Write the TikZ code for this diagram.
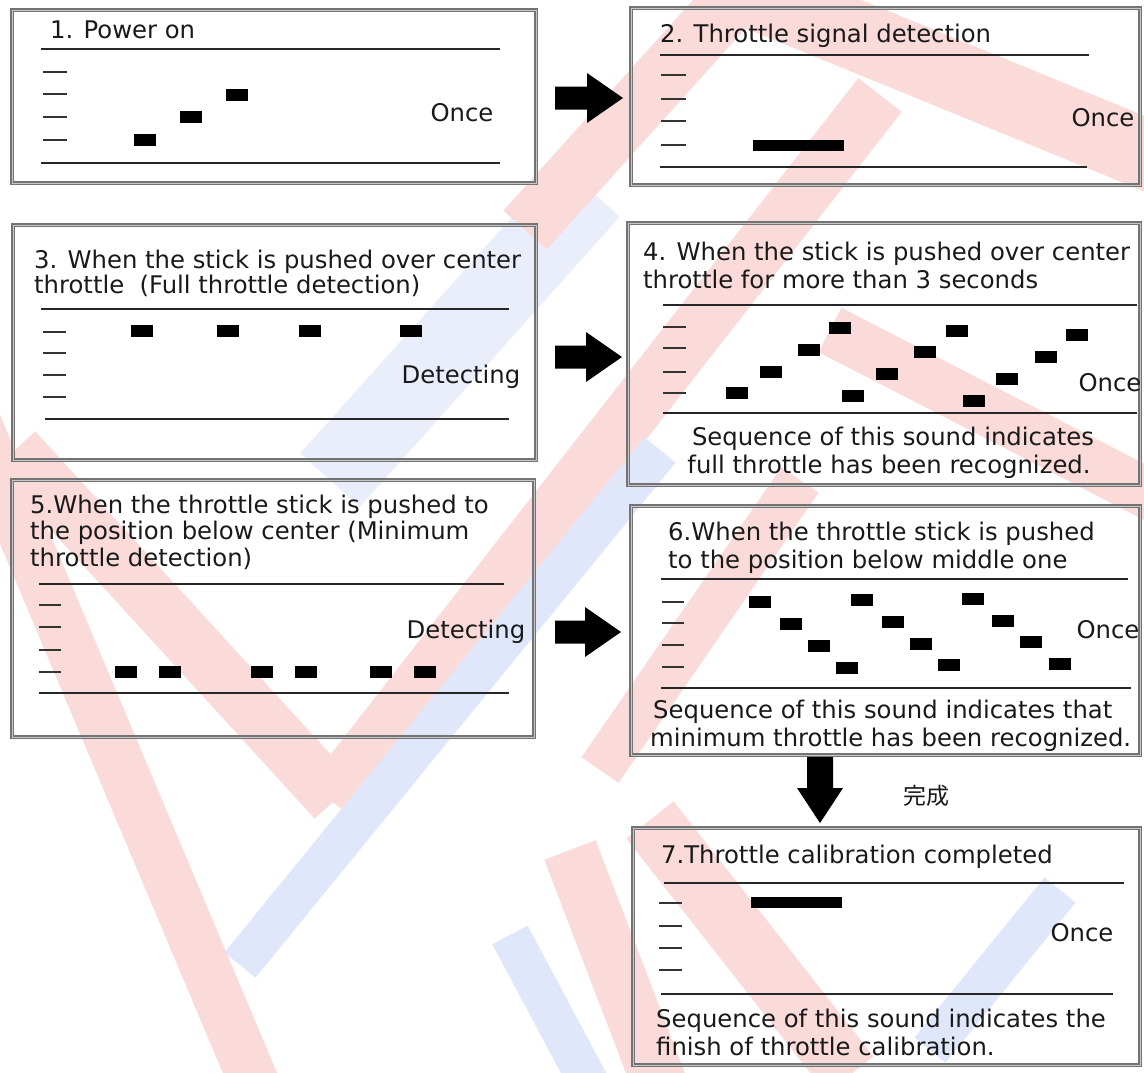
\documentclass[tikz,border=0pt]{standalone}
\usepackage{fontspec}
\setmainfont{DejaVu Sans}
\newfontfamily\cjkfont{Noto Sans CJK JP}
\usetikzlibrary{calc}
\definecolor{wmred}{RGB}{251,218,218}
\definecolor{wmblue}{RGB}{224,231,250}
\definecolor{wmblueb}{RGB}{234,238,251}
\newcommand\harrowfill[2]{\fill[black] let \p1=(#1), \p2=(#2) in (\x1,\y1+11.5pt) -- (\x2-36pt,\y1+11.5pt) -- (\x2-36pt,\y1+25pt) -- (\x2,\y1) -- (\x2-36pt,\y1-25pt) -- (\x2-36pt,\y1-11.5pt) -- (\x1,\y1-11.5pt) -- cycle;}
\newcommand\varrowfill[2]{\fill[black] let \p1=(#1), \p2=(#2) in (\x1-13pt,\y1) -- (\x1+13pt,\y1) -- (\x1+13pt,\y2+35pt) -- (\x1+23pt,\y2+35pt) -- (\x1,\y2) -- (\x1-23pt,\y2+35pt) -- (\x1-13pt,\y2+35pt) -- cycle;}
\begin{document}
\begin{tikzpicture}[x=1pt,y=-1pt,
  frame/.style={draw=black!55, line width=1.1pt, double=black!22, double distance=1pt, inner sep=0pt, outer sep=0pt, rectangle},
  rule/.style={draw=black!45, line width=0.9pt, double=black!85, double distance=1.1pt},
  tickmark/.style={draw=black!80, line width=2pt},
  note/.style={fill=black, inner sep=0pt, minimum width=22pt, minimum height=12pt, rectangle},
  longnote/.style={fill=black, inner sep=0pt, minimum width=91pt, minimum height=11pt, rectangle},
  lbl/.style={font=\fontsize{24.3}{28}\selectfont, inner sep=0pt, anchor=base west, text=black!90},
  clbl/.style={font=\fontsize{24.3}{28}\selectfont, inner sep=0pt, anchor=base, text=black!90},
  word/.style={font=\fontsize{24.3}{28}\selectfont, inner sep=0pt, anchor=center, text=black!90},
  wm/.style={line width=#1, line cap=butt}]
\useasboundingbox (0,0) rectangle (1144,1072);
\fill[white] (0,0) rectangle (1144,1072);

% ---------- watermark ----------
\begin{scope}
\draw[wm=80pt, wmblueb] (590,190) -- (330,480);
\draw[wm=50pt, wmred] (-25,420) -- (255,1085);
\draw[wm=55pt, wmred] (15,450) -- (335,800);
\draw[wm=55pt, wmred] (330,800) -- (880,95);
\draw[wm=58pt, wmred] (525,230) -- (750,-20);
\draw[wm=70pt, wmred] (720,-20) -- (1160,160);
\draw[wm=50pt, wmred] (830,330) -- (1160,500);
\draw[wm=45pt, wmred] (600,770) -- (800,480);
\draw[wm=55pt, wmred] (570,850) -- (660,1085);
\draw[wm=60pt, wmred] (650,820) -- (850,1075);
\draw[wm=40pt, wmblue] (660,450) -- (240,965);
\draw[wm=40pt, wmblue] (510,935) -- (590,1085);
\draw[wm=40pt, wmblue] (1060,890) -- (930,1050);
\end{scope}

% ---------- boxes ----------
\node[frame, minimum width=524pt, minimum height=173pt] (b1) at (274,96.5) {};
\node[frame, minimum width=509pt, minimum height=177pt] (b2) at (885.5,96.5) {};
\node[frame, minimum width=523pt, minimum height=235pt] (b3) at (274.5,342.5) {};
\node[frame, minimum width=512pt, minimum height=262pt] (b4) at (884,354) {};
\node[frame, minimum width=522pt, minimum height=257pt] (b5) at (273,608.5) {};
\node[frame, minimum width=509pt, minimum height=249pt] (b6) at (885.5,630.5) {};
\node[frame, minimum width=507pt, minimum height=237pt] (b7) at (886.5,946.5) {};

% ---------- box 1 ----------
\node[lbl] (t1) at (50,38) {1. Power on};
\draw[rule] (41,49) -- (500,49);
\draw[rule] (41,163) -- (500,163);
\foreach \y in {72,94,117,140} \draw[tickmark] (43,\y) -- (67,\y);
\node[note] (n1a) at (145,140) {};
\node[note] (n1b) at (191,117) {};
\node[note] (n1c) at (237,95) {};
\node[word] (o1) at (462,113) {Once};

% ---------- box 2 ----------
\node[lbl] (t2) at (660,42) {2. Throttle signal detection};
\draw[rule] (660,55) -- (1089,55);
\draw[rule] (660,167) -- (1087,167);
\foreach \y in {75,99,121,145} \draw[tickmark] (661,\y) -- (686,\y);
\node[longnote] (n2a) at (798.5,145.5) {};
\node[word] (o2) at (1103,118) {Once};

% ---------- box 3 ----------
\node[lbl] (t3a) at (34,268) {3. When the stick is pushed over center};
\node[lbl] (t3b) at (34,293) {throttle \ (Full throttle detection)};
\draw[rule] (41,309) -- (509,309);
\draw[rule] (45,419) -- (509,419);
\foreach \y in {332,353,375,397} \draw[tickmark] (43,\y) -- (66,\y);
\node[note] (n3a) at (142,331) {};
\node[note] (n3b) at (228,331) {};
\node[note] (n3c) at (310,331) {};
\node[note] (n3d) at (411,331) {};
\node[word] (d3) at (461,377) {Detecting};

% ---------- box 4 ----------
\node[lbl] (t4a) at (643,260) {4. When the stick is pushed over center};
\node[lbl] (t4b) at (643,288) {throttle for more than 3 seconds};
\draw[rule] (663,305) -- (1137,305);
\draw[rule] (663,413) -- (1137,413);
\foreach \y in {327,348,372,393} \draw[tickmark] (663,\y) -- (686,\y);
\node[note] (n4a) at (737,393) {};
\node[note] (n4b) at (771,372) {};
\node[note] (n4c) at (809,350) {};
\node[note] (n4d) at (840,328) {};
\node[note] (n4e) at (853,396) {};
\node[note] (n4f) at (887,374) {};
\node[note] (n4g) at (925,352) {};
\node[note] (n4h) at (957,331) {};
\node[note] (n4i) at (974,401) {};
\node[note] (n4j) at (1007,379) {};
\node[note] (n4k) at (1046,357) {};
\node[note] (n4l) at (1077,335) {};
\node[word] (o4) at (1110,383) {Once};
\node[clbl] (s4a) at (893,445) {Sequence of this sound indicates};
\node[clbl] (s4b) at (889,473) {full throttle has been recognized.};

% ---------- box 5 ----------
\node[lbl] (t5a) at (30,513) {5.When the throttle stick is pushed to};
\node[lbl] (t5b) at (30,539) {the position below center (Minimum};
\node[lbl] (t5c) at (30,566) {throttle detection)};
\draw[rule] (39,584) -- (504,584);
\draw[rule] (39,693) -- (509,693);
\foreach \y in {605,627,650,672} \draw[tickmark] (39,\y) -- (61,\y);
\node[note] (n5a) at (126,672) {};
\node[note] (n5b) at (170,672) {};
\node[note] (n5c) at (262,672) {};
\node[note] (n5d) at (306,672) {};
\node[note] (n5e) at (381,672) {};
\node[note] (n5f) at (425,672) {};
\node[word] (d5) at (466,632) {Detecting};

% ---------- box 6 ----------
\node[lbl] (t6a) at (668,540) {6.When the throttle stick is pushed};
\node[lbl] (t6b) at (668,568) {to the position below middle one};
\draw[rule] (661,579) -- (1128,579);
\draw[rule] (661,688) -- (1131,688);
\foreach \y in {602,623,645,667} \draw[tickmark] (662,\y) -- (684,\y);
\node[note] (n6a) at (760,602) {};
\node[note] (n6b) at (791,624) {};
\node[note] (n6c) at (819,646) {};
\node[note] (n6d) at (847,668) {};
\node[note] (n6e) at (862,600) {};
\node[note] (n6f) at (893,622) {};
\node[note] (n6g) at (921,644) {};
\node[note] (n6h) at (949,665) {};
\node[note] (n6i) at (973,599) {};
\node[note] (n6j) at (1003,621) {};
\node[note] (n6k) at (1031,642) {};
\node[note] (n6l) at (1060,664) {};
\node[word] (o6) at (1108,630) {Once};
\node[lbl] (s6a) at (653,718) {Sequence of this sound indicates that};
\node[lbl] (s6b) at (650,746) {minimum throttle has been recognized.};

% ---------- box 7 ----------
\node[lbl] (t7) at (661,863) {7.Throttle calibration completed};
\draw[rule] (664,883) -- (1124,883);
\draw[rule] (661,994) -- (1113,994);
\foreach \y in {903,926,948,970} \draw[tickmark] (659,\y) -- (682,\y);
\node[longnote] (n7a) at (796.5,902.5) {};
\node[word] (o7) at (1082,933) {Once};
\node[lbl] (s7a) at (656,1027) {Sequence of this sound indicates the};
\node[lbl] (s7b) at (656,1055) {finish of throttle calibration.};

% ---------- arrows ----------
\coordinate (a12s) at (555,98);  \coordinate (a12e) at (623,98);
\coordinate (a34s) at (555,357); \coordinate (a34e) at (622,357);
\coordinate (a56s) at (555,632); \coordinate (a56e) at (621,632);
\coordinate (a67s) at (820,757); \coordinate (a67e) at (820,823);
\harrowfill{a12s}{a12e}
\harrowfill{a34s}{a34e}
\harrowfill{a56s}{a56e}
\varrowfill{a67s}{a67e}
\node[font=\cjkfont\fontsize{23}{26}\selectfont, inner sep=0pt, text=black!90] (done) at (926,796) {完成};
\end{tikzpicture}
\end{document}
